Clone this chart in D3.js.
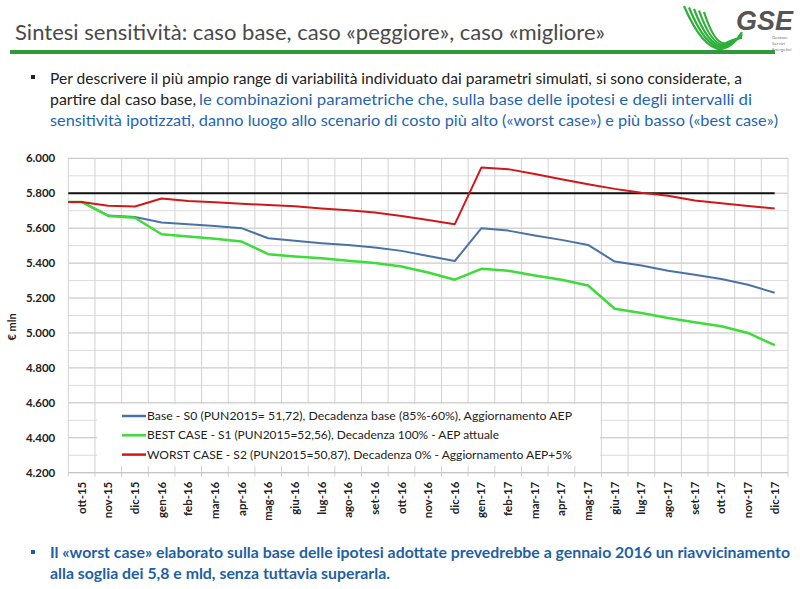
<!DOCTYPE html>
<html><head><meta charset="utf-8">
<script src="https://cdn.jsdelivr.net/npm/d3@7"></script>
<style>body{margin:0;background:#fff}svg{display:block}</style>
</head><body>
<script>
const categories = ["ott-15","nov-15","dic-15","gen-16","feb-16","mar-16","apr-16","mag-16","giu-16","lug-16","ago-16","set-16","ott-16","nov-16","dic-16","gen-17","feb-17","mar-17","apr-17","mag-17","giu-17","lug-17","ago-17","set-17","ott-17","nov-17","dic-17"];
const baseValues  = [5750,5672,5664,5633,5622,5612,5600,5542,5528,5514,5503,5489,5470,5441,5412,5600,5586,5558,5533,5504,5409,5386,5356,5333,5309,5276,5230];
const bestValues  = [5750,5670,5660,5565,5552,5539,5523,5451,5438,5428,5413,5400,5381,5346,5305,5367,5356,5329,5305,5272,5139,5114,5086,5061,5038,5000,4930];
const worstValues = [5750,5728,5724,5770,5755,5748,5740,5732,5725,5713,5702,5690,5670,5647,5623,5948,5938,5910,5880,5852,5825,5803,5785,5758,5742,5727,5713];
const threshold = 5800;
const yTicks = [4200,4400,4600,4800,5000,5200,5400,5600,5800,6000];
const seriesNames = [
  "Base - S0 (PUN2015= 51,72), Decadenza base (85%-60%), Aggiornamento AEP",
  "BEST CASE - S1 (PUN2015=52,56), Decadenza 100% - AEP attuale",
  "WORST CASE - S2 (PUN2015=50,87), Decadenza 0% - Aggiornamento AEP+5%"
];
const seriesColors = ["#4a72a8","#3ddc3a","#d01818"];
const series = [baseValues, bestValues, worstValues];

const W = 800, H = 589;
const svg = d3.select("body").append("svg").attr("width", W).attr("height", H);
const FONT = "Lato, 'Open Sans', sans-serif";

// Header
svg.append("text").attr("x",15).attr("y",40).attr("font-family",FONT).attr("font-size",22)
  .attr("fill","#4a4a4a").attr("textLength",590).attr("lengthAdjust","spacingAndGlyphs")
  .text("Sintesi sensitività: caso base, caso «peggiore», caso «migliore»");
svg.append("rect").attr("x",10).attr("y",50).attr("width",765).attr("height",4).attr("fill","#2f9a3a");

// Logo
const logo = svg.append("g");
for (let i = 0; i < 5; i++) {
  logo.append("path")
    .attr("d", `M${684+i*5},${6+i*1.5} Q${703+i*3},${50-i*1} ${722+i*1},${49-i*1.5} Q${733},${47-i*2} ${742},${32+i*1.5}`)
    .attr("fill","none").attr("stroke","#2fae3a").attr("stroke-width",2.2);
}
logo.append("text").attr("x",736).attr("y",30).attr("font-family","'Liberation Sans', Arial, sans-serif")
  .attr("font-size",27).attr("font-weight","bold").attr("font-style","italic").attr("fill","#555").text("GSE");
["Gestore","Servizi","Energetici"].forEach((t,i)=>{
  logo.append("text").attr("x",772).attr("y",39+i*6).attr("font-family",FONT).attr("font-size",4.5).attr("fill","#777").text(t);
});

// Top paragraph
svg.append("rect").attr("x",31).attr("y",75).attr("width",4).attr("height",4).attr("fill","#222");
const para = [
  {x:50,y:84,w:692,c:"#222",t:"Per descrivere il più ampio range di variabilità individuato dai parametri simulati, si sono considerate, a"},
  {x:50,y:105,w:146,c:"#222",t:"partire dal caso base,"},
  {x:199,y:105,w:553,c:"#1f66b0",t:"le combinazioni parametriche che, sulla base delle ipotesi e degli intervalli di"},
  {x:50,y:126,w:728,c:"#1f66b0",t:"sensitività ipotizzati, danno luogo allo scenario di costo più alto («worst case») e più basso («best case»)"}
];
para.forEach(p=>{
  svg.append("text").attr("x",p.x).attr("y",p.y).attr("font-family",FONT).attr("font-size",15)
    .attr("fill",p.c).attr("textLength",p.w).attr("lengthAdjust","spacingAndGlyphs").text(p.t);
});

// Chart
const x = d3.scaleBand().domain(categories).range([68.3, 788]).padding(0);
const y = d3.scaleLinear().domain([4200, 6000]).range([472.7, 158.3]);
const g = svg.append("g");

// horizontal grid
d3.range(4200, 6001, 100).forEach(v=>{
  g.append("line").attr("x1",x.range()[0]).attr("x2",x.range()[1]).attr("y1",y(v)).attr("y2",y(v))
   .attr("stroke", v%200===0 ? "#bdbdbd" : "#dcdcdc").attr("stroke-width",1);
});
// vertical grid
categories.forEach(c=>{
  g.append("line").attr("x1",x(c)).attr("x2",x(c)).attr("y1",y(6000)).attr("y2",y(4200)+4)
   .attr("stroke","#d2d2d2");
});
g.append("line").attr("x1",x.range()[1]).attr("x2",x.range()[1]).attr("y1",y(6000)).attr("y2",y(4200)+4).attr("stroke","#d2d2d2");
g.append("line").attr("x1",x.range()[0]).attr("x2",x.range()[1]).attr("y1",y(4200)).attr("y2",y(4200)).attr("stroke","#c4c4c4");

// y axis labels
const fmt = d3.formatLocale({decimal:",",thousands:".",grouping:[3],currency:["","€"]}).format(",.0f");
const yAxis = d3.axisLeft(y).tickValues(yTicks).tickFormat(fmt).tickSize(0).tickPadding(13);
const ya = svg.append("g").attr("transform",`translate(${x.range()[0]},0)`).call(yAxis);
ya.select(".domain").remove();
ya.selectAll("text").attr("font-family",FONT).attr("font-size",11.5).attr("font-weight","bold").attr("fill","#222");

svg.append("text").attr("transform","translate(16,327) rotate(-90)").attr("text-anchor","middle")
  .attr("font-family",FONT).attr("font-size",11).attr("font-weight","bold").attr("fill","#222").text("€ mln");

// x axis labels
const xAxis = d3.axisBottom(x).tickSize(0).tickPadding(0);
const xa = svg.append("g").attr("transform",`translate(0,${y(4200)})`).call(xAxis);
xa.select(".domain").remove();
xa.selectAll("text").attr("transform","translate(0,9) rotate(-90)").attr("text-anchor","end")
  .attr("dy","0.35em").attr("y",0).attr("font-family",FONT).attr("font-size",11.5).attr("font-weight","bold").attr("fill","#222");

// threshold line
g.append("line").attr("x1",x(categories[0])).attr("x2",x(categories[categories.length-1])+x.bandwidth()/2)
  .attr("y1",y(threshold)).attr("y2",y(threshold)).attr("stroke","#111").attr("stroke-width",2);

// series lines
const line = d3.line().x(d=>d[0]).y(d=>y(d[1]));
series.forEach((vals,si)=>{
  const pts = [[x(categories[0]), vals[0]]].concat(vals.map((v,i)=>[x(categories[i])+x.bandwidth()/2, v]));
  g.append("path").attr("d",line(pts)).attr("fill","none").attr("stroke",seriesColors[si])
   .attr("stroke-width", si===1 ? 2.5 : 2).attr("stroke-linejoin","round");
});

// legend
const lg = svg.append("g");
lg.append("rect").attr("x",97).attr("y",404).attr("width",503).attr("height",62).attr("fill","#fff");
const lw = [425,352,425];
seriesNames.forEach((n,i)=>{
  const yy = 416 + i*19.3;
  lg.append("line").attr("x1",122).attr("x2",146).attr("y1",yy).attr("y2",yy).attr("stroke",seriesColors[i]).attr("stroke-width",2.5);
  lg.append("text").attr("x",147).attr("y",yy+4).attr("font-family",FONT).attr("font-size",12).attr("fill","#222")
    .attr("textLength",lw[i]).attr("lengthAdjust","spacingAndGlyphs").text(n);
});

// bottom paragraph
svg.append("rect").attr("x",31).attr("y",550).attr("width",4).attr("height",4).attr("fill","#1f5fa5");
[{y:558,w:740,t:"Il «worst case» elaborato sulla base delle ipotesi adottate prevedrebbe a gennaio 2016 un riavvicinamento"},
 {y:579,w:340,t:"alla soglia dei 5,8 e mld, senza tuttavia superarla."}].forEach(p=>{
  svg.append("text").attr("x",50).attr("y",p.y).attr("font-family",FONT).attr("font-size",15).attr("font-weight","bold")
    .attr("fill","#1f5fa5").attr("textLength",p.w).attr("lengthAdjust","spacingAndGlyphs").text(p.t);
});
</script>
</body></html>
